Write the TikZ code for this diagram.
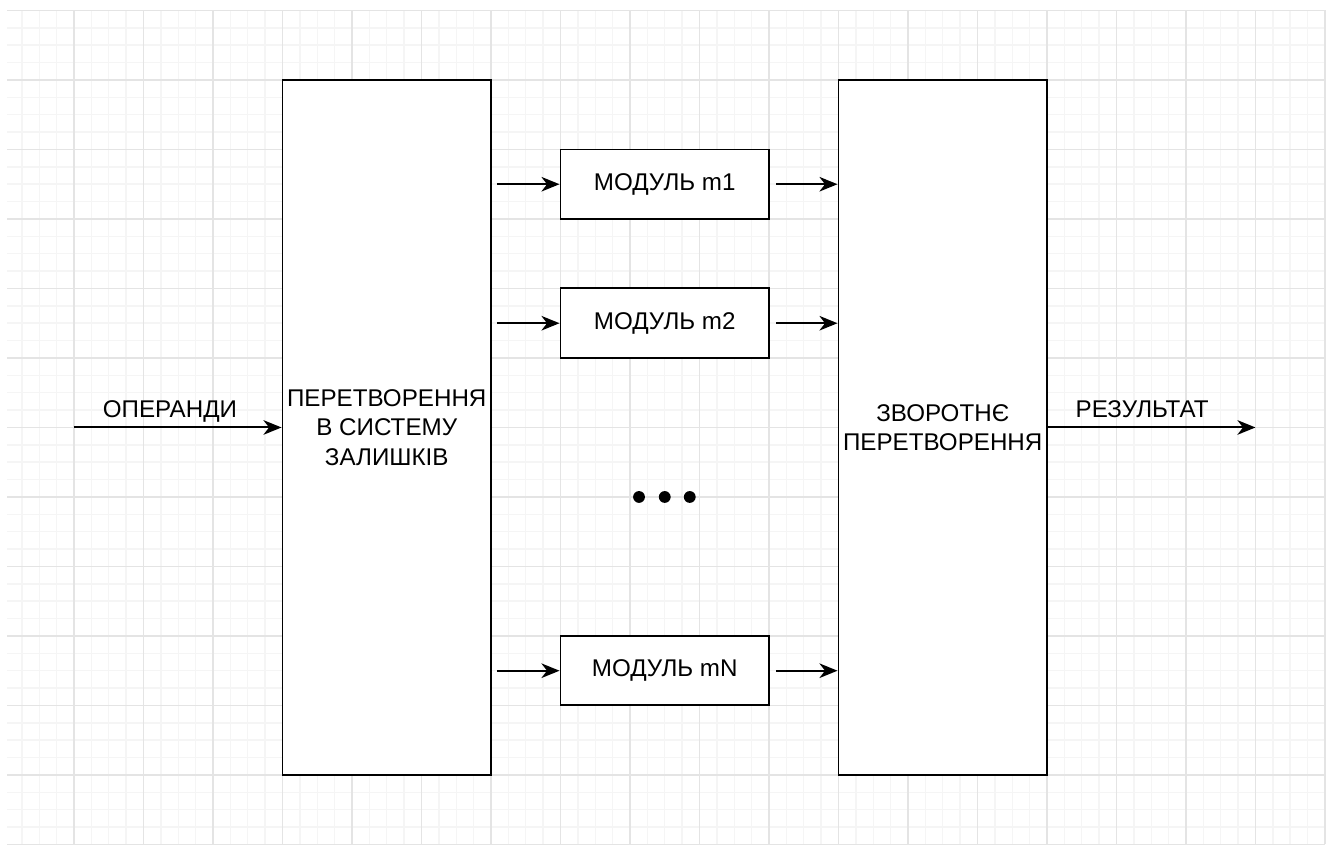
\documentclass[tikz,border=0pt]{standalone}
\usepackage{fontspec}
\setmainfont{Liberation Sans}
\usepackage{xcolor}
\usetikzlibrary{arrows.meta, positioning, calc}

\definecolor{gridmajor}{RGB}{228,228,228}
\definecolor{gridminor}{RGB}{245,245,245}

\begin{document}
\begin{tikzpicture}[
  font=\fontsize{9.9}{12.1}\selectfont,
  box/.style={draw, fill=white, line width=0.8pt, minimum width=3cm, minimum height=1cm, align=center, inner sep=1pt},
  tallbox/.style={box, minimum height=10cm},
  lbl/.style={anchor=base, inner sep=0pt},
  arr/.style={-{Stealth[length=2.6mm, width=2.1mm, inset=0.8mm]}, line width=0.8pt},
  ellipsisdot/.style={circle, fill, inner sep=0pt, minimum size=1.7mm},
]
  % Background grid
  \fill[white] (-0.065,-0.022) rectangle (19.13,12.151);
  \draw[gridminor, line width=0.6pt, step=0.25] (0.04,0) grid (19,12);
  \draw[gridmajor, line width=0.6pt, step=1] (0.04,0) grid (19,12);
  \useasboundingbox (-0.065,-0.022) rectangle (19.13,12.151);

  % Forward conversion
  \node[tallbox] (conv) at (5.5, 6) {ПЕРЕТВОРЕННЯ\\В СИСТЕМУ\\ЗАЛИШКІВ};

  % Inverse conversion
  \node[tallbox] (inv) at (13.5, 6) {ЗВОРОТНЄ\\ПЕРЕТВОРЕННЯ};

  % Modules
  \node[box] (m1) at (9.5, 9.5) {МОДУЛЬ m1};
  \node[box] (m2) at (9.5, 7.5) {МОДУЛЬ m2};
  \node[box] (mN) at (9.5, 2.5) {МОДУЛЬ mN};

  % Dots
  \node[ellipsisdot] (d1) at (9.13, 5) {};
  \node[ellipsisdot] (d2) at (9.50, 5) {};
  \node[ellipsisdot] (d3) at (9.86, 5) {};

  % Input and output
  \coordinate (opin) at (1, 6);
  \coordinate (resout) at (18, 6);
  \node[lbl] (oplbl) at (2.38, 6.14) {ОПЕРАНДИ};
  \node[lbl] (reslbl) at (16.37, 6.15) {РЕЗУЛЬТАТ};

  % Arrows
  \draw[arr] (opin) -- (conv);
  \draw[arr] (inv) -- (resout);
  \draw[arr, shorten <=0.07cm] (conv.east |- m1) -- (m1);
  \draw[arr, shorten <=0.07cm] (conv.east |- m2) -- (m2);
  \draw[arr, shorten <=0.07cm] (conv.east |- mN) -- (mN);
  \draw[arr, shorten <=0.09cm] (m1) -- (inv.west |- m1);
  \draw[arr, shorten <=0.09cm] (m2) -- (inv.west |- m2);
  \draw[arr, shorten <=0.09cm] (mN) -- (inv.west |- mN);
\end{tikzpicture}
\end{document}
